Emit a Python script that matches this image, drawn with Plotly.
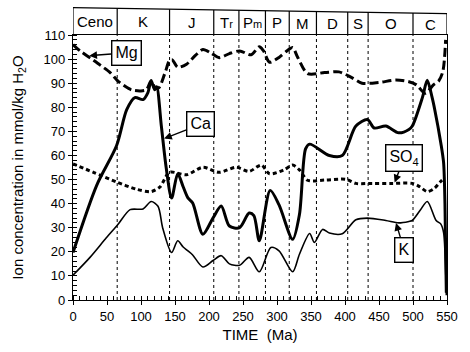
import plotly.graph_objects as go

# ---------------- data ----------------
mg_t = [0, 10, 25, 40, 55, 65, 75, 86, 100, 108, 115, 120, 126, 135, 142, 146, 154, 167, 180, 191,
        203, 215, 230, 245, 262, 274, 280, 289, 303, 315, 323, 330, 345, 370, 391, 410, 425, 450,
        475, 494, 505, 518, 530, 538, 544, 548]
mg_v = [106, 103.5, 100.5, 97.5, 94.3, 91.2, 89, 87.2, 86.8, 87.3, 91, 88.5, 88, 94, 99.4, 99.7, 96.6,
        97.9, 101.5, 104, 102.5, 100.6, 102.3, 103.4, 101.8, 105.1, 103.5, 98.7, 100.7, 103.5, 104.8,
        101, 94, 94.4, 94.7, 92.3, 90, 90.3, 91.3, 90.6, 89.3, 85.8, 89.3, 91, 95, 108]

ca_t = [0, 35, 64, 79, 91, 103, 110, 115, 120, 123, 130, 137, 145, 154, 162, 169, 176, 191, 206, 218,
        230, 245, 259, 266, 274, 290, 303, 323, 333, 342, 348, 377, 396, 416, 433, 443, 460, 479, 494,
        499, 514, 521, 528, 532, 541, 545, 547, 549]
ca_v = [19.7, 47.7, 64, 79, 84, 83.2, 86, 91, 87.3, 88.5, 72, 55, 42.3, 52.4, 47, 42.4, 40.3, 27.3, 34.1,
        39, 30.7, 30, 36.1, 35, 24.6, 45.5, 39.5, 25.2, 35.5, 62.7, 64.7, 60, 60, 72.2, 74.9, 71.4, 72.2,
        69.4, 70.8, 72.2, 84.2, 91.2, 84.2, 79, 65, 57, 40, 3]

k_t = [0, 25, 49, 66, 84, 103, 115, 125, 132, 145, 154, 162, 169, 176, 191, 206, 218, 230, 245, 259,
       274, 291, 303, 323, 333, 348, 355, 367, 377, 396, 416, 433, 460, 479, 494, 499, 510, 521, 534,
       541, 545, 547, 549]
k_v = [10.3, 17.7, 25.8, 31.3, 37.5, 37.8, 40.9, 38.9, 29.8, 19.7, 24.6, 22, 20.4, 18.7, 13.7, 16.4, 18.4,
       15, 14.4, 17.7, 11.7, 21.8, 20.4, 11.7, 19, 27.6, 23.9, 29.3, 27.8, 27.5, 33.3, 34, 33, 32, 32.6,
       33, 37, 40.9, 33, 31.5, 28, 20, 2]

so4_t = [0, 30, 64, 93, 115, 128, 142, 167, 191, 215, 240, 259, 277, 289, 310, 323, 333, 345, 370, 401,
         416, 440, 470, 499, 510, 521, 532, 540, 546]
so4_v = [56.5, 53, 49, 46, 45, 47, 53, 52, 55.1, 53, 55.1, 53.4, 56, 52.4, 54, 56, 54, 49.7, 49.8, 50.1,
         48.4, 48.4, 48.4, 48.4, 47, 45, 46.5, 49, 50.5]

period_names = ["Ceno", "K", "J", "T<span style='font-size:11px'>r</span>",
                "P<span style='font-size:11px'>m</span>", "P", "M", "D", "S", "O", "C"]
period_bounds = [0, 65, 142, 207, 244, 283, 318, 358, 404, 434, 500, 550]

x_ticks = list(range(0, 551, 50))
y_ticks = list(range(0, 111, 10))

# ---------------- figure ----------------
FONT = "Liberation Sans, Arial, Helvetica, sans-serif"
fig = go.Figure()

fig.add_trace(go.Scatter(x=mg_t, y=mg_v, mode="lines", line=dict(color="black", width=3, dash="9px,4px", shape="spline", smoothing=0.8)))
fig.add_trace(go.Scatter(x=so4_t, y=so4_v, mode="lines", line=dict(color="black", width=3, dash="4px,3px", shape="spline", smoothing=0.8)))
fig.add_trace(go.Scatter(x=ca_t, y=ca_v, mode="lines", line=dict(color="black", width=3, shape="spline", smoothing=0.8)))
fig.add_trace(go.Scatter(x=k_t, y=k_v, mode="lines", line=dict(color="black", width=1.6, shape="spline", smoothing=0.8)))

shapes = []
# dotted period boundaries inside the plot
for b in period_bounds[1:-1]:
    shapes.append(dict(type="line", xref="x", yref="paper", x0=b, x1=b, y0=0, y1=1,
                       line=dict(color="black", width=1, dash="dot"), layer="below"))

# header band above the plot (slightly slanted top like the scan)
top_l, top_r = 1.103, 1.081
def top_at(t):
    return top_l + (top_r - top_l) * t / 550.0

shapes.append(dict(type="line", xref="x", yref="paper", x0=0, x1=550, y0=top_l, y1=top_r,
                   line=dict(color="black", width=1.2)))
for b in period_bounds:
    shapes.append(dict(type="line", xref="x", yref="paper", x0=b, x1=b, y0=1, y1=top_at(b),
                       line=dict(color="black", width=1.2)))

annotations = []
for i, name in enumerate(period_names):
    c = (period_bounds[i] + period_bounds[i + 1]) / 2
    annotations.append(dict(x=c, y=(1 + top_at(c)) / 2, xref="x", yref="paper", text=name,
                            showarrow=False, yanchor="middle", xanchor="center",
                            font=dict(family=FONT, size=15, color="black")))

def label(text, tx, ty, hx, hy):
    return dict(x=hx, y=hy, ax=tx, ay=ty, xref="x", yref="y", axref="x", ayref="y",
                text=text, showarrow=True, arrowhead=2, arrowsize=1.1, arrowwidth=1.4,
                arrowcolor="black", bordercolor="black", borderwidth=1.4, borderpad=3,
                bgcolor="white", font=dict(family=FONT, size=16, color="black"))

annotations.append(label("Mg", 78, 102.6, 24, 101.4))
annotations.append(label("Ca", 188, 72.9, 134, 67))
annotations.append(label("SO<sub>4</sub>", 487, 59, 473, 48.8))
annotations.append(label("K", 487, 20.8, 475, 32))

fig.update_layout(
    width=470, height=352,
    margin=dict(l=73, r=22, t=35, b=48),
    plot_bgcolor="white", paper_bgcolor="white",
    showlegend=False,
    font=dict(family=FONT, color="black"),
    shapes=shapes, annotations=annotations,
)
fig.update_xaxes(range=[0, 550], tickvals=x_ticks, ticks="outside", ticklen=4, tickwidth=1,
                 tickcolor="black", showline=True, linecolor="black", linewidth=1.2, mirror=True,
                 showgrid=False, zeroline=False, tickfont=dict(size=13, family=FONT),
                 minor=dict(dtick=10, ticks="inside", ticklen=4, tickcolor="black", showgrid=False),
                 title=dict(text="TIME  (Ma)", font=dict(size=15, family=FONT), standoff=6))
fig.update_yaxes(range=[0, 110], tickvals=y_ticks, ticks="outside", ticklen=4, tickwidth=1,
                 tickcolor="black", showline=True, linecolor="black", linewidth=1.2, mirror=True,
                 showgrid=False, zeroline=False, tickfont=dict(size=13, family=FONT),
                 minor=dict(dtick=2, ticks="inside", ticklen=4, tickcolor="black", showgrid=False),
                 title=dict(text="Ion concentration in mmol/kg H<sub>2</sub>O",
                            font=dict(size=15, family=FONT), standoff=16))

fig.write_html("out.html", config={"displayModeBar": False},
               post_script="document.body.style.margin='0px';document.body.style.padding='0px';")
